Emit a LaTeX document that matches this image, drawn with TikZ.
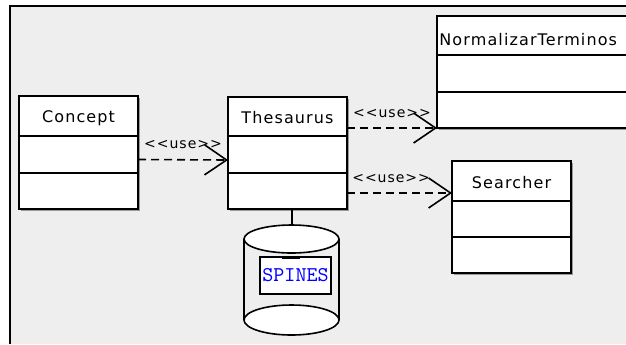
\documentclass[tikz,border=0pt]{standalone}
\usepackage{fontspec}
\newfontfamily\umlfont[LetterSpace=7]{DejaVu Sans}
\usetikzlibrary{arrows.meta,shadows}
\definecolor{bg}{HTML}{EEEEEE}
\begin{document}
\begin{tikzpicture}[x=0.5pt,y=-0.5pt,
    cls/.style={draw, line width=1pt, fill=white, inner sep=0pt, outer sep=0pt, anchor=north west,
        drop shadow={shadow xshift=0.8pt, shadow yshift=-0.8pt, fill=black!40, opacity=1}},
    ttl/.style={font=\umlfont\fontsize{8}{9}\selectfont, inner sep=0pt},
    use/.style={line width=0.8pt, dash pattern=on 4pt off 2.5pt,
        -{Straight Barb[length=11pt,width=15pt]}},
    lbl/.style={font=\umlfont\fontsize{7}{8}\selectfont, inner sep=0pt}]
    \useasboundingbox (0,0) rectangle (626,344);
    % frame of the diagram
    \fill[white] (0,0) rectangle (626,344);
    \fill[bg] (10,6) rectangle (626,344);
    \draw[line width=1pt] (10,344) -- (10,6) -- (626,6);
    % classes
    \node[cls, minimum width=59.5pt, minimum height=56.5pt] (concept) at (19,96) {};
    \node[ttl] (conceptname) at (78.5,118) {Concept};
    \draw[line width=1pt] (19,136) -- (138,136);
    \draw[line width=1pt] (19,173) -- (138,173);
    \node[cls, minimum width=59.5pt, minimum height=56pt] (thesaurus) at (228,97) {};
    \node[ttl] (thesaurusname) at (287.5,118) {Thesaurus};
    \draw[line width=1pt] (228,136) -- (347,136);
    \draw[line width=1pt] (228,173) -- (347,173);
    \node[cls, minimum width=110pt, minimum height=56pt] (norm) at (437,16) {};
    \node[ttl, anchor=west] (normname) at (439,40) {NormalizarTerminos};
    \draw[line width=1pt] (437,55) -- (657,55);
    \draw[line width=1pt] (437,92) -- (657,92);
    \node[cls, minimum width=59.5pt, minimum height=56pt] (searcher) at (452,161) {};
    \node[ttl] (searchername) at (511.5,183) {Searcher};
    \draw[line width=1pt] (452,201) -- (571,201);
    \draw[line width=1pt] (452,237) -- (571,237);
    % dependencies
    \draw[use] ([yshift=-3.5pt]concept.east) -- ([yshift=-3.5pt]thesaurus.west)
        node[lbl, midway, above=5pt] (use1) {<{}<use>{}>};
    \draw[use] ([yshift=12.5pt]thesaurus.east) -- (norm.south west)
        node[lbl, midway, above=5pt] (use2) {<{}<use>{}>};
    \draw[use] ([yshift=-20pt]thesaurus.east) -- ([yshift=12pt]searcher.west)
        node[lbl, pos=0.42, above=5pt] (use3) {<{}<use>{}>};
    % database
    \coordinate (dbtop) at (291.5,225);
    \draw[line width=1pt] ([xshift=2pt]thesaurus.south) -- (dbtop);
    \draw[line width=0.8pt] (244,239) -- (244,320);
    \draw[line width=0.8pt] (339,239) -- (339,320);
    \draw[line width=0.8pt, fill=white] (291.5,239) ellipse (23.75pt and 7pt);
    \draw[line width=0.8pt, fill=white] (291.5,320) ellipse (23.75pt and 7.5pt);
    \node[draw, fill=white, line width=0.8pt, minimum width=35.5pt, minimum height=18.5pt,
        inner sep=0pt, font=\ttfamily\fontsize{10.5}{11}\selectfont, text=blue] (spines) at (295.5,275.5) {SPINES};
    \draw[line width=1.5pt] (282,257) -- (300,257);
\end{tikzpicture}
\end{document}
